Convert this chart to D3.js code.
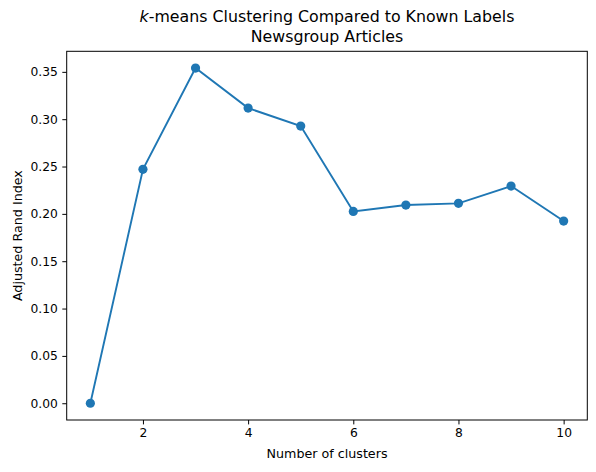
<!DOCTYPE html>
<html><head><meta charset="utf-8">
<script src="https://cdn.jsdelivr.net/npm/d3@7"></script>
<style>body{margin:0;background:#fff}text{font-family:"DejaVu Sans",sans-serif;fill:#000}</style>
</head><body>
<svg id="c" width="596" height="472"></svg>
<script>
const clusters = [1, 2, 3, 4, 5, 6, 7, 8, 9, 10];
const ariValues = [0.000, 0.247, 0.354, 0.3117, 0.2927, 0.2026, 0.2093, 0.2111, 0.2294, 0.1924];
const xTicks = [2, 4, 6, 8, 10];
const yTicks = [0.00, 0.05, 0.10, 0.15, 0.20, 0.25, 0.30, 0.35];

const svg = d3.select("#c");
const L = 66.7, R = 587.3, T = 51.3, B = 420;
const x = d3.scaleLinear().domain([0.55, 10.45]).range([L, R]);
const y = d3.scaleLinear().domain([-0.0177, 0.3717]).range([B, T]);
const color = "#1f77b4";
const fs = 12.3;

const xa = svg.append("g").attr("transform", `translate(0,${B})`)
  .call(d3.axisBottom(x).tickValues(xTicks).tickFormat(d3.format("d")).tickSize(4.4).tickPadding(4));
const ya = svg.append("g").attr("transform", `translate(${L},0)`)
  .call(d3.axisLeft(y).tickValues(yTicks).tickFormat(d3.format(".2f")).tickSize(4.4).tickPadding(4.4));
[xa, ya].forEach(a => {
  a.select(".domain").remove();
  a.selectAll("text").style("font-size", fs + "px").style("font-family", "DejaVu Sans").attr("fill", "#000");
  a.selectAll("line").attr("stroke", "#000").attr("stroke-width", 1);
});

const line = d3.line().x((d, i) => x(clusters[i])).y(d => y(d));
svg.append("path").datum(ariValues).attr("d", line)
  .attr("fill", "none").attr("stroke", color).attr("stroke-width", 1.9);
svg.selectAll("circle.pt").data(ariValues).enter().append("circle")
  .attr("class", "pt").attr("cx", (d, i) => x(clusters[i])).attr("cy", d => y(d))
  .attr("r", 4.6).attr("fill", color);

svg.append("rect").attr("x", L).attr("y", T).attr("width", R - L).attr("height", B - T)
  .attr("fill", "none").attr("stroke", "#000").attr("stroke-width", 1);

const cx = (L + R) / 2;
const tfs = "15.8px";
const t1 = svg.append("text").attr("x", cx).attr("y", 21.7).attr("text-anchor", "middle").style("font-size", tfs);
t1.append("tspan").style("font-style", "italic").text("k");
t1.append("tspan").text("-means Clustering Compared to Known Labels");
svg.append("text").attr("x", cx).attr("y", 41.7).attr("text-anchor", "middle").style("font-size", tfs)
  .text("Newsgroup Articles");

svg.append("text").attr("x", cx).attr("y", 458).attr("text-anchor", "middle").style("font-size", "12.7px")
  .text("Number of clusters");
svg.append("text").attr("transform", `translate(21.5,${(T + B) / 2}) rotate(-90)`)
  .attr("text-anchor", "middle").style("font-size", "12.7px").text("Adjusted Rand Index");
</script>
</body></html>
